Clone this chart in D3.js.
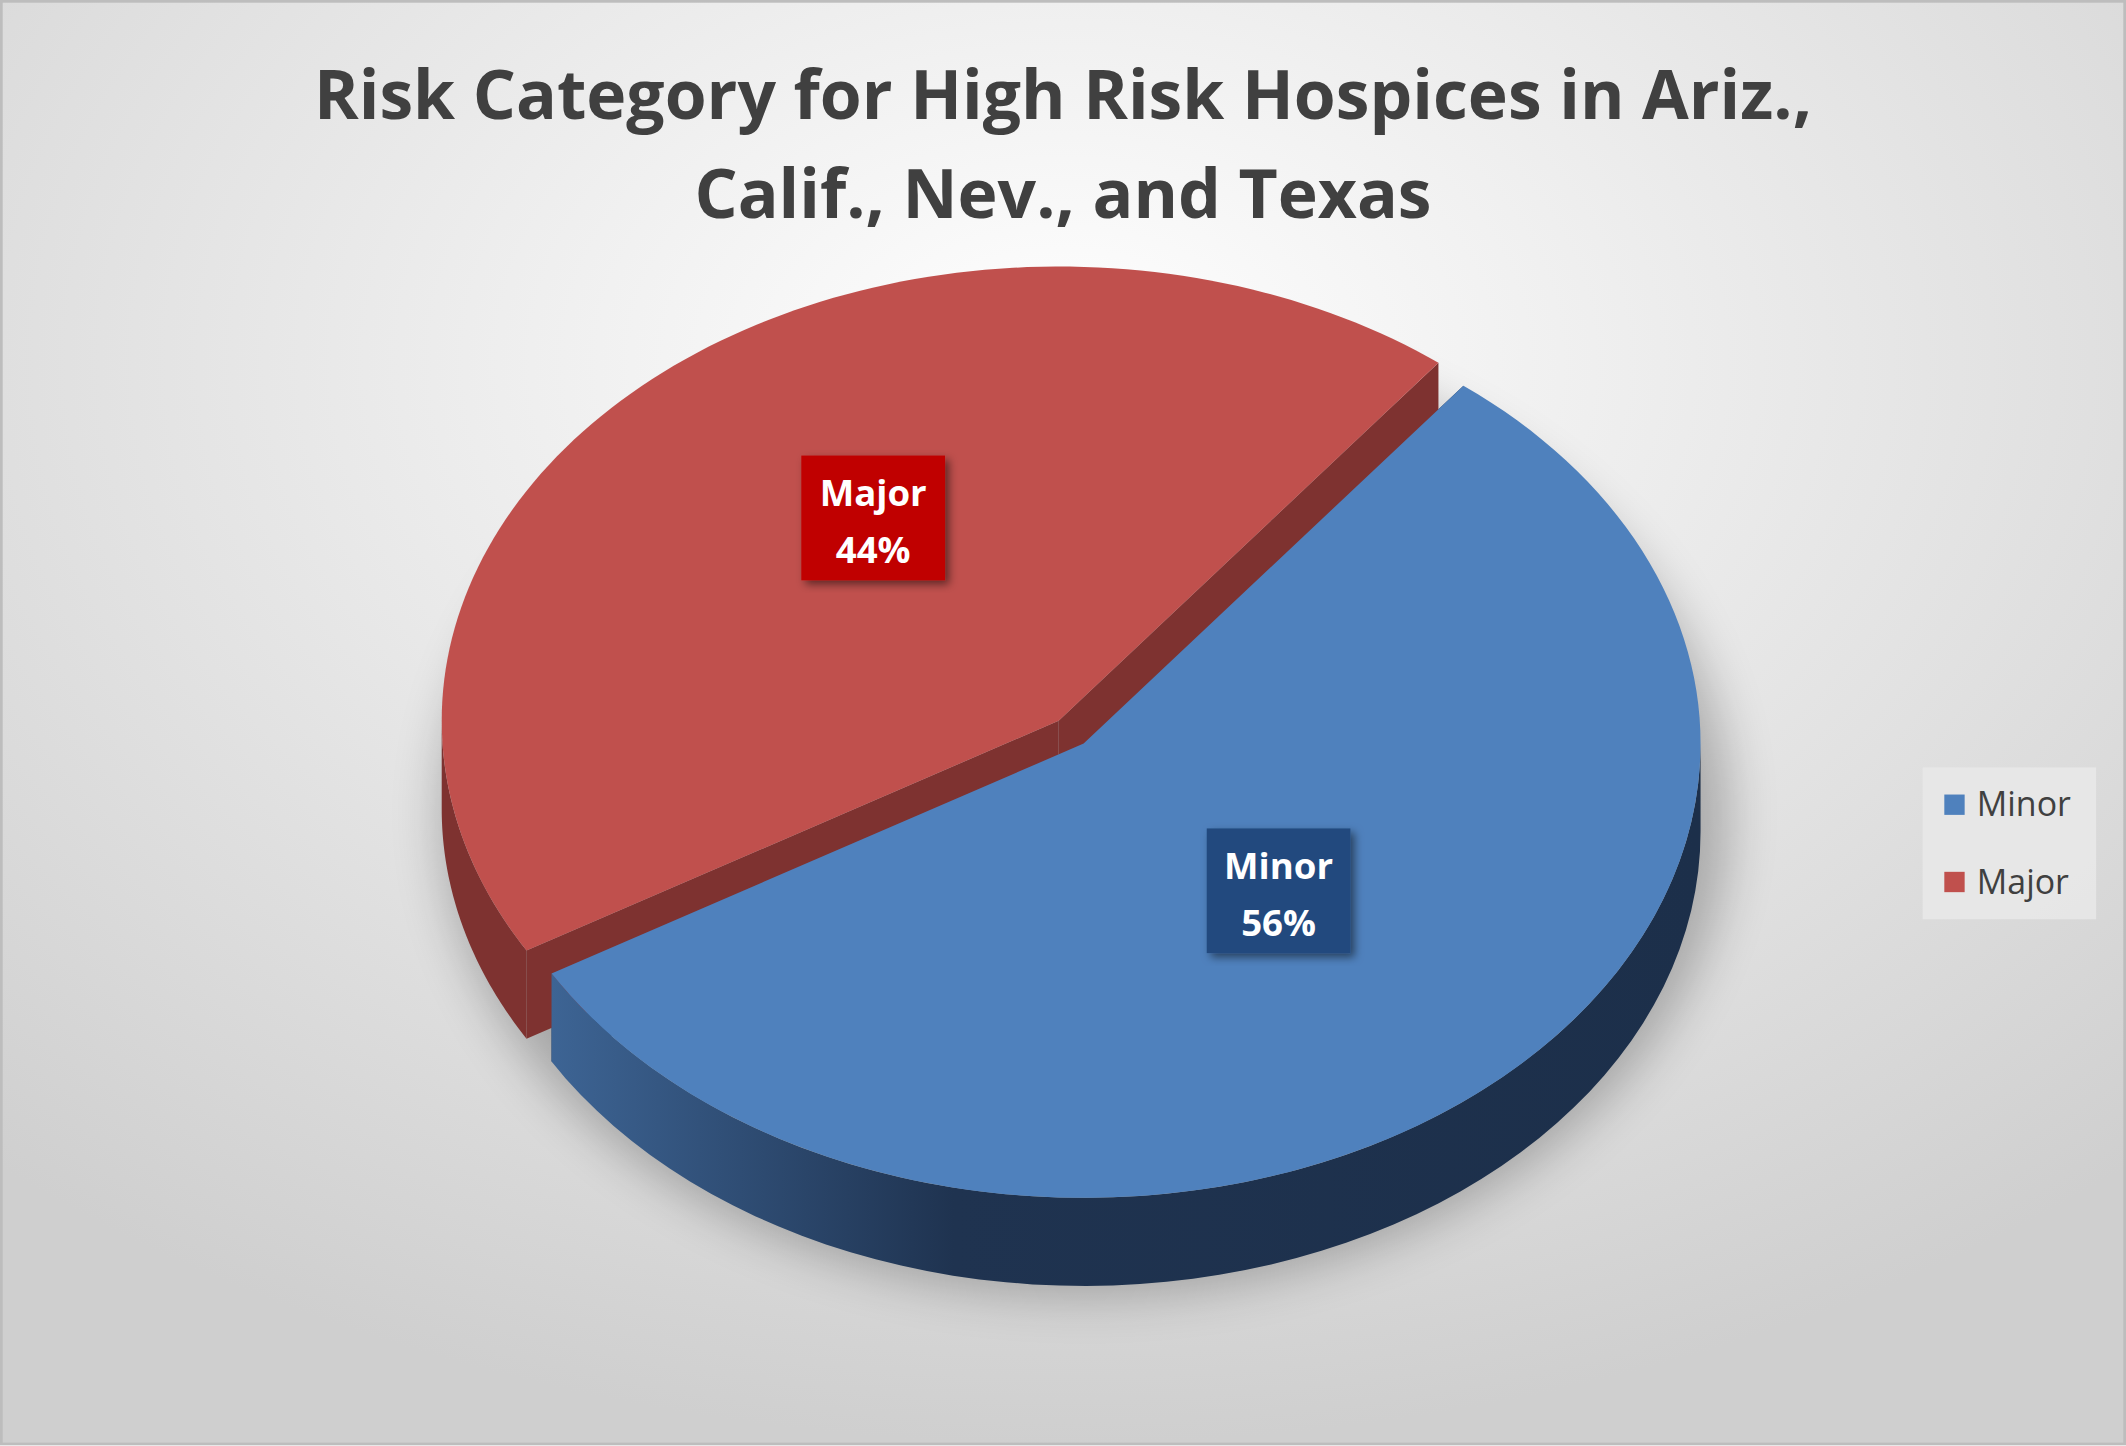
<!DOCTYPE html>
<html><head><meta charset="utf-8">
<script src="https://cdn.jsdelivr.net/npm/d3@7/dist/d3.min.js"></script>
<style>body{margin:0;overflow:hidden}</style>
</head><body>
<svg id="chart" width="2126" height="1446"></svg>
<script>
var categories = ["Minor", "Major"];
var values     = [56, 44];
var topColors  = ["#4f81bd", "#c0504d"];
var sideColors = ["#1f3350", "#7e3230"];
var labelBoxes = ["#214a7e", "#c00000"];
var titleLines = ["Risk Category for High Risk Hospices in Ariz.,", "Calif., Nev., and Texas"];

var W = 1568, H = 1066, k = 2126 / W;
var svg = d3.select("#chart");
var defs = svg.append("defs");

var bg = defs.append("radialGradient").attr("id", "bg").attr("cx", "50%").attr("cy", "25%").attr("r", "75%");
bg.append("stop").attr("offset", "0%").attr("stop-color", "#ffffff");
bg.append("stop").attr("offset", "100%").attr("stop-color", "#cfcfcf");

var sideGrad = defs.append("linearGradient").attr("id", "side0").attr("x1", "0%").attr("x2", "100%");
sideGrad.append("stop").attr("offset", "0%").attr("stop-color", "#3d6494");
sideGrad.append("stop").attr("offset", "35%").attr("stop-color", "#1f3350");
sideGrad.append("stop").attr("offset", "100%").attr("stop-color", "#1c2f4a");

defs.append("filter").attr("id", "blur").attr("x", "-20%").attr("y", "-20%").attr("width", "140%").attr("height", "140%")
  .append("feGaussianBlur").attr("stdDeviation", 18);
var ds = defs.append("filter").attr("id", "drop");
ds.append("feDropShadow").attr("dx", 3).attr("dy", 3).attr("stdDeviation", 3).attr("flood-opacity", 0.5);

var g = svg.append("g").attr("transform", "scale(" + k + ")");
g.append("rect").attr("x", 1).attr("y", 1).attr("width", W - 2).attr("height", H - 2)
  .attr("fill", "url(#bg)").attr("stroke", "#bdbdbd").attr("stroke-width", 2);

g.selectAll("text.title").data(titleLines).join("text").attr("class", "title")
  .attr("x", 784).attr("y", function(d, i) { return 88 + i * 73; })
  .attr("text-anchor", "middle").attr("font-family", "'Open Sans', sans-serif")
  .attr("font-weight", "bold").attr("font-size", 50).attr("fill", "#404040").text(function(d) { return d; });

var base = {x: 790, y: 540}, rx = 455, ry = 335, depth = 65, explode = 14;
var pie = d3.pie().sort(null).startAngle(38 * Math.PI / 180).endAngle(38 * Math.PI / 180 + 2 * Math.PI);
var arcs = pie(values);
arcs.forEach(function(a) {
  var m = (a.startAngle + a.endAngle) / 2;
  a.cx = base.x + explode * Math.sin(m);
  a.cy = base.y - explode * 0.8 * Math.cos(m);
});
function pt(a, t, dz) { return [a.cx + rx * Math.sin(t), a.cy - ry * Math.cos(t) + (dz || 0)]; }
var line = d3.line();

// shadow
g.append("ellipse").attr("cx", base.x + 10).attr("cy", base.y + 60).attr("rx", rx + 20).attr("ry", ry + 20)
  .attr("fill", "#000").attr("opacity", 0.25).attr("filter", "url(#blur)");

// radial cut walls
arcs.forEach(function(a, i) {
  [a.startAngle, a.endAngle].forEach(function(t) {
    var p = pt(a, t);
    g.append("path").attr("d", line([[a.cx, a.cy], p, [p[0], p[1] + depth], [a.cx, a.cy + depth]]) + "Z")
      .attr("fill", sideColors[i]);
  });
});
// outer walls (front half)
arcs.forEach(function(a, i) {
  var s = Math.max(a.startAngle, Math.PI / 2), e = Math.min(a.endAngle, 3 * Math.PI / 2);
  var s2 = Math.max(a.startAngle, 2.5 * Math.PI), e2 = Math.min(a.endAngle, 3.5 * Math.PI);
  [[s, e], [s2, e2]].forEach(function(r) {
    if (r[1] <= r[0]) return;
    var top = d3.range(0, 61).map(function(j) { return pt(a, r[0] + (r[1] - r[0]) * j / 60); });
    var bot = top.map(function(p) { return [p[0], p[1] + depth]; }).reverse();
    g.append("path").attr("d", line(top.concat(bot)) + "Z")
      .attr("fill", i === 0 ? "url(#side0)" : sideColors[i]);
  });
});
// tops
arcs.forEach(function(a, i) {
  var pts = [[a.cx, a.cy]].concat(d3.range(0, 121).map(function(j) {
    return pt(a, a.startAngle + (a.endAngle - a.startAngle) * j / 120); }));
  g.append("path").attr("d", line(pts) + "Z").attr("fill", topColors[i]);
});

// data labels
var labelPos = [{x: 943, y: 657}, {x: 644, y: 382}];
arcs.forEach(function(a, i) {
  var lp = labelPos[i];
  g.append("rect").attr("x", lp.x - 53).attr("y", lp.y - 46).attr("width", 106).attr("height", 92)
    .attr("fill", labelBoxes[i]).attr("filter", "url(#drop)");
  g.append("text").attr("x", lp.x).attr("y", lp.y - 9).attr("text-anchor", "middle")
    .attr("font-family", "'Open Sans', sans-serif").attr("font-weight", "bold").attr("font-size", 27)
    .attr("fill", "#fff").text(categories[i]);
  g.append("text").attr("x", lp.x).attr("y", lp.y + 33).attr("text-anchor", "middle")
    .attr("font-family", "'Open Sans', sans-serif").attr("font-weight", "bold").attr("font-size", 27)
    .attr("fill", "#fff").text(values[i] + "%");
});

// legend
var lg = g.append("g").attr("transform", "translate(1418,566)");
lg.append("rect").attr("width", 128).attr("height", 112).attr("fill", "#e8e8e8").attr("opacity", 0.9);
categories.forEach(function(c, i) {
  lg.append("rect").attr("x", 16).attr("y", 20 + i * 57).attr("width", 15).attr("height", 15).attr("fill", topColors[i]);
  lg.append("text").attr("x", 40).attr("y", 36 + i * 57).attr("font-family", "'Open Sans', sans-serif")
    .attr("font-size", 25).attr("fill", "#404040").text(c);
});
</script>
</body></html>
